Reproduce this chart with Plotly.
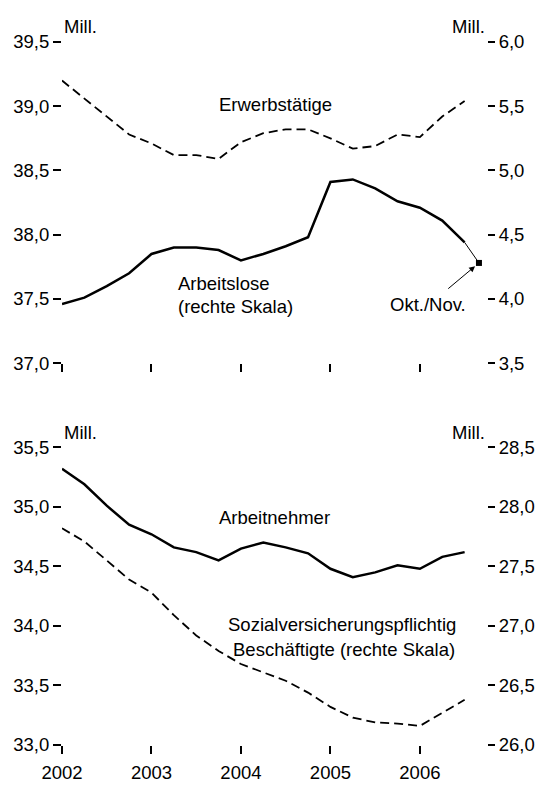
"""Erwerbstätige, Arbeitslose, Arbeitnehmer und SV-Beschäftigte 2002-2006 (two panels, dual axes)."""

import plotly.graph_objects as go

# quarterly observations, 2002 Q1 .. 2006 Q3
quarters = [
    "2002Q1", "2002Q2", "2002Q3", "2002Q4",
    "2003Q1", "2003Q2", "2003Q3", "2003Q4",
    "2004Q1", "2004Q2", "2004Q3", "2004Q4",
    "2005Q1", "2005Q2", "2005Q3", "2005Q4",
    "2006Q1", "2006Q2", "2006Q3",
]

# top panel (Mill.)
erwerbstaetige = [39.20, 39.06, 38.92, 38.78, 38.71, 38.62, 38.62, 38.59, 38.72, 38.79,
                  38.82, 38.82, 38.75, 38.67, 38.69, 38.78, 38.76, 38.92, 39.04]
arbeitslose = [3.96, 4.01, 4.10, 4.20, 4.35, 4.40, 4.40, 4.38, 4.30, 4.35,
               4.41, 4.48, 4.91, 4.93, 4.86, 4.76, 4.71, 4.61, 4.44]
# latest monthly value (Okt./Nov. 2006)
okt_nov_x = 2006.66
okt_nov_val = 4.28

# bottom panel (Mill.)
arbeitnehmer = [35.32, 35.19, 35.01, 34.85, 34.77, 34.66, 34.62, 34.55, 34.65, 34.70,
                34.66, 34.61, 34.48, 34.41, 34.45, 34.51, 34.48, 34.58, 34.62]
sv_beschaeftigte = [27.82, 27.71, 27.55, 27.39, 27.28, 27.09, 26.92, 26.79, 26.68, 26.61,
                    26.54, 26.44, 26.32, 26.23, 26.19, 26.18, 26.16, 26.27, 26.38]

years = [2002, 2003, 2004, 2005, 2006]
left_top_ticks = [37.0, 37.5, 38.0, 38.5, 39.0, 39.5]
right_top_ticks = [3.5, 4.0, 4.5, 5.0, 5.5, 6.0]
left_bottom_ticks = [33.0, 33.5, 34.0, 34.5, 35.0, 35.5]
right_bottom_ticks = [26.0, 26.5, 27.0, 27.5, 28.0, 28.5]

FONT = "Liberation Sans, Arial, sans-serif"
FSIZE = 18.5
DASH = "9px,5px"

# quarter -> position on a continuous year scale (quarter start)
x = [int(q[:4]) + (int(q[-1]) - 1) / 4 for q in quarters]

fig = go.Figure()

# ---- top panel ----
fig.add_trace(go.Scatter(x=x, y=erwerbstaetige, mode="lines", xaxis="x", yaxis="y",
                         line={"color": "black", "width": 1.8, "dash": DASH}))
fig.add_trace(go.Scatter(x=x, y=arbeitslose, mode="lines", xaxis="x", yaxis="y2",
                         line={"color": "black", "width": 2.5}))
fig.add_trace(go.Scatter(x=[x[-1], okt_nov_x], y=[arbeitslose[-1], okt_nov_val], mode="lines",
                         xaxis="x", yaxis="y2", line={"color": "black", "width": 1}))
fig.add_trace(go.Scatter(x=[okt_nov_x], y=[okt_nov_val], mode="markers", xaxis="x", yaxis="y2",
                         marker={"symbol": "square", "size": 6, "color": "black"},
                         cliponaxis=False))

# ---- bottom panel ----
fig.add_trace(go.Scatter(x=x, y=arbeitnehmer, mode="lines", xaxis="x2", yaxis="y3",
                         line={"color": "black", "width": 2.5}))
fig.add_trace(go.Scatter(x=x, y=sv_beschaeftigte, mode="lines", xaxis="x2", yaxis="y4",
                         line={"color": "black", "width": 1.8, "dash": DASH}))

tick_style = dict(ticks="outside", ticklen=8, tickwidth=2, tickcolor="black",
                  showgrid=False, zeroline=False, showline=False,
                  tickfont={"family": FONT, "size": FSIZE, "color": "black"})
right_style = dict(tick_style, ticklen=7)
x_range = [2002, 2006.75]

fig.update_layout(
    width=547, height=795,
    margin={"l": 62, "r": 48, "t": 42, "b": 35},
    paper_bgcolor="white", plot_bgcolor="white",
    showlegend=False, hovermode=False,
    separators=",.",
    font={"family": FONT, "size": FSIZE, "color": "black"},
    xaxis=dict(domain=[0, 1], anchor="y", range=x_range, tickvals=years,
               showticklabels=False, **tick_style),
    yaxis=dict(domain=[0.5432, 1], anchor="x", range=[37.0, 39.5],
               tickvals=left_top_ticks, tickformat=".1f", **tick_style),
    yaxis2=dict(overlaying="y", side="right", anchor="x", range=[3.5, 6.0],
                tickvals=right_top_ticks, tickformat=".1f", **right_style),
    xaxis2=dict(domain=[0, 1], anchor="y3", range=x_range, tickvals=years,
                ticktext=[str(y) for y in years], ticklabelstandoff=3, **tick_style),
    yaxis3=dict(domain=[0, 0.4234], anchor="x2", range=[33.0, 35.5],
                tickvals=left_bottom_ticks, tickformat=".1f", **tick_style),
    yaxis4=dict(overlaying="y3", side="right", anchor="x2", range=[26.0, 28.5],
                tickvals=right_bottom_ticks, tickformat=".1f", **right_style),
)


def label(text, xv, yv, xref="x", yref="y", xanchor="center", yshift=0):
    fig.add_annotation(text=text, x=xv, y=yv, xref=xref, yref=yref, xanchor=xanchor,
                       yanchor="middle", yshift=yshift, showarrow=False,
                       font={"family": FONT, "size": FSIZE, "color": "black"})


# unit labels
label("Mill.", x_range[0], left_top_ticks[-1], xanchor="left", yshift=16)
label("Mill.", x_range[1], left_top_ticks[-1], xanchor="right", yshift=16)
label("Mill.", x_range[0], left_bottom_ticks[-1], xref="x2", yref="y3", xanchor="left", yshift=15)
label("Mill.", x_range[1], left_bottom_ticks[-1], xref="x2", yref="y3", xanchor="right", yshift=15)

# series labels
label("Erwerbstätige", 2004.39, 39.01)
label("Arbeitslose", 2003.27, 37.62, xanchor="left")
label("(rechte Skala)", 2003.27, 37.44, xanchor="left")
label("Okt./Nov.", 2006.095, 37.455)
label("Arbeitnehmer", 2004.37, 34.91, xref="x2", yref="y3")
label("Sozialversicherungspflichtig", 2006.43, 34.01, xref="x2", yref="y3", xanchor="right")
label("Beschäftigte (rechte Skala)", 2006.42, 33.80, xref="x2", yref="y3", xanchor="right")

# arrow pointing at the latest monthly value
fig.add_annotation(x=okt_nov_x, y=okt_nov_val, xref="x", yref="y2",
                   ax=2006.30, ay=4.07, axref="x", ayref="y2",
                   text="", showarrow=True, arrowhead=2, arrowsize=1.2,
                   arrowwidth=1, arrowcolor="black", standoff=5)

# drop the default page margin so the 547x795 figure fills the window exactly
fig.write_html("out.html", config={"displayModeBar": False},
               post_script="document.body.style.margin = '0';")
